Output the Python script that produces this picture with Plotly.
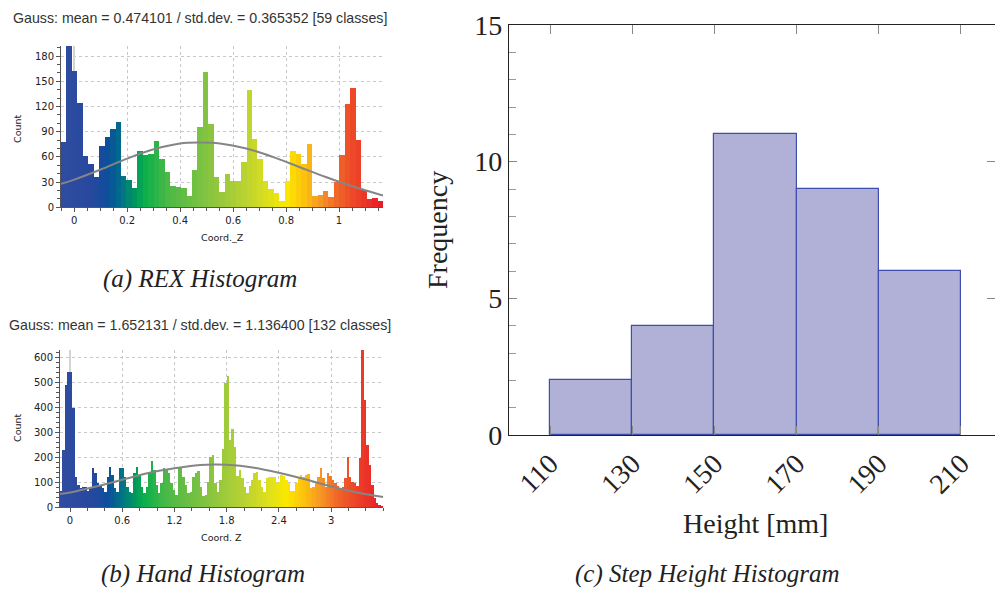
import numpy as np
import plotly.graph_objects as go

# ---------------- (a) REX histogram ----------------
rex_title = "Gauss: mean = 0.474101 / std.dev. = 0.365352 [59 classes]"
rex_range = [-0.05, 1.166]          # value range covered by the 59 classes
rex_counts = [78, 200, 162, 124, 61, 51, 36, 73, 84, 93,
              101, 37, 32, 23, 67, 62, 63, 79, 57, 42,
              25, 24, 23, 13, 44, 96, 161, 99, 36, 18,
              40, 31, 31, 54, 140, 81, 57, 31, 22, 17,
              8, 31, 67, 63, 51, 75, 14, 15, 19, 12,
              30, 62, 123, 142, 80, 21, 10, 11, 7]
rex_gauss_x = [-0.05, 0.0, 0.1, 0.2, 0.3, 0.4, 0.474, 0.55, 0.65, 0.75, 0.85, 0.95, 1.05, 1.166]
rex_gauss_y = [28, 33, 45, 58, 69, 76, 77, 76, 70, 60, 48, 36, 25, 14]
rex_xticks = [0, 0.2, 0.4, 0.6, 0.8, 1]
rex_xticklabels = ["0", "0.2", "0.4", "0.6", "0.8", "1"]
rex_yticks = [0, 30, 60, 90, 120, 150, 180]
rex_xlabel = "Coord._Z"

# ---------------- (b) Hand histogram ----------------
hand_title = "Gauss: mean = 1.652131 / std.dev. = 1.136400 [132 classes]"
hand_range = [-0.115, 3.60]
hand_counts = [65, 230, 490, 540, 542, 395, 121, 90, 78, 81,
               81, 63, 81, 155, 135, 95, 84, 75, 61, 121,
               161, 128, 75, 61, 157, 155, 121, 81, 61, 55,
               135, 161, 128, 81, 55, 81, 141, 185, 148, 88,
               55, 95, 155, 148, 137, 95, 70, 48, 155, 159,
               121, 88, 57, 61, 121, 137, 144, 81, 44, 48,
               101, 201, 208, 95, 61, 108, 231, 495, 525, 268,
               311, 240, 125, 148, 115, 81, 55, 84, 108, 137,
               141, 108, 81, 60, 115, 119, 119, 119, 97, 100,
               128, 124, 108, 95, 65, 65, 95, 115, 128, 121,
               128, 132, 75, 81, 95, 121, 157, 115, 81, 135,
               124, 108, 97, 85, 75, 81, 117, 199, 121, 101,
               95, 85, 195, 660, 428, 248, 168, 88, 35, 15,
               8, 4]
hand_gauss_x = [-0.115, 0.0, 0.3, 0.6, 0.9, 1.2, 1.5, 1.652, 1.8, 2.1, 2.4, 2.7, 3.0, 3.3, 3.6]
hand_gauss_y = [52, 58, 82, 109, 136, 155, 168, 170, 169, 158, 137, 111, 82, 58, 40]
hand_xticks = [0, 0.6, 1.2, 1.8, 2.4, 3]
hand_xticklabels = ["0", "0.6", "1.2", "1.8", "2.4", "3"]
hand_yticks = [0, 100, 200, 300, 400, 500, 600]
hand_xlabel = "Coord. Z"

# ---------------- (c) Step height histogram ----------------
step_bin_lower = [110, 130, 150, 170, 190]
step_bin_width = 20
step_freq = [2, 4, 11, 9, 6]
step_xticks = [110, 130, 150, 170, 190, 210]
step_yticks = [0, 5, 10, 15]

captions = ["(a) REX Histogram", "(b) Hand Histogram", "(c) Step Height Histogram"]

# colour ramp (blue > green > yellow > red) used by the point-cloud software
ramp = [
    [0.00, "rgb(48,76,160)"],
    [0.10, "rgb(38,72,158)"],
    [0.15, "rgb(10,80,155)"],
    [0.19, "rgb(0,115,135)"],
    [0.23, "rgb(0,150,95)"],
    [0.26, "rgb(10,175,75)"],
    [0.33, "rgb(75,185,70)"],
    [0.45, "rgb(130,195,65)"],
    [0.57, "rgb(185,210,50)"],
    [0.65, "rgb(225,225,25)"],
    [0.70, "rgb(250,232,0)"],
    [0.76, "rgb(252,190,15)"],
    [0.80, "rgb(247,155,35)"],
    [0.86, "rgb(240,100,40)"],
    [0.93, "rgb(236,60,40)"],
    [1.00, "rgb(230,25,40)"],
]

W, H = 995, 591


def px(x):
    return x / W


def py(y):
    return 1 - y / H


def hist_centers(rng, counts):
    n = len(counts)
    w = (rng[1] - rng[0]) / n
    return rng[0] + w * (np.arange(n) + 0.5), w


fig = go.Figure()

# (a)
ca, wa = hist_centers(rex_range, rex_counts)
fig.add_trace(go.Bar(x=ca, y=rex_counts, width=wa, xaxis="x", yaxis="y",
                     marker=dict(color=ca, colorscale=ramp, cmin=rex_range[0], cmax=rex_range[1],
                                 line=dict(width=0)), showlegend=False))
fig.add_trace(go.Scatter(x=rex_gauss_x, y=rex_gauss_y, mode="lines", xaxis="x", yaxis="y",
                         line=dict(color="#858585", width=2, shape="spline"), showlegend=False))

# (b)
cb, wb = hist_centers(hand_range, hand_counts)
fig.add_trace(go.Bar(x=cb, y=hand_counts, width=wb, xaxis="x2", yaxis="y2",
                     marker=dict(color=cb, colorscale=ramp, cmin=hand_range[0], cmax=hand_range[1],
                                 line=dict(width=0)), showlegend=False))
fig.add_trace(go.Scatter(x=hand_gauss_x, y=hand_gauss_y, mode="lines", xaxis="x2", yaxis="y2",
                         line=dict(color="#858585", width=2, shape="spline"), showlegend=False))

# (c)
cc = [lo + step_bin_width / 2 for lo in step_bin_lower]
fig.add_trace(go.Bar(x=cc, y=step_freq, width=step_bin_width, xaxis="x3", yaxis="y3",
                     marker=dict(color="#b1b0d7", line=dict(color="#3d4fae", width=1.2)),
                     showlegend=False))
fig.add_trace(go.Scatter(x=[], y=[], xaxis="x3", yaxis="y4", showlegend=False))

small = dict(family="DejaVu Sans", size=10, color="#222222")
label_small = dict(family="DejaVu Sans", size=9.5, color="#222222")
serif = "Liberation Serif"

common_small_x = dict(ticks="outside", ticklen=4, tickcolor="#555", showline=True, linecolor="#555",
                      linewidth=1, showgrid=True, gridcolor="#c8c8c8", griddash="dot", gridwidth=1,
                      tickfont=small, zeroline=True, zerolinecolor="#d4d4d4", zerolinewidth=2,
                      fixedrange=True)
common_small_y = dict(ticks="outside", ticklen=4, tickcolor="#555", showline=True, linecolor="#555",
                      linewidth=1, showgrid=True, gridcolor="#c8c8c8", griddash="dot", gridwidth=1,
                      tickfont=small, zeroline=False, fixedrange=True)

fig.update_layout(
    width=W, height=H, autosize=False,
    margin=dict(l=0, r=0, t=0, b=0, pad=0, autoexpand=False),
    paper_bgcolor="white", plot_bgcolor="white",
    bargap=0, barmode="overlay",
    xaxis=dict(domain=[px(61), px(383)], anchor="y", range=rex_range,
               tickvals=rex_xticks, ticktext=rex_xticklabels,
               minor=dict(dtick=0.05, tick0=0, ticks="outside", ticklen=3, tickcolor="#555", showgrid=False),
               **common_small_x),
    yaxis=dict(domain=[py(207.3), py(46)], anchor="x", range=[0, 192], tickvals=rex_yticks,
               minor=dict(dtick=10, tick0=0, ticks="outside", ticklen=3, tickcolor="#555", showgrid=False),
               **common_small_y),
    xaxis2=dict(domain=[px(60), px(383.3)], anchor="y2", range=hand_range,
                tickvals=hand_xticks, ticktext=hand_xticklabels,
                minor=dict(dtick=0.2, tick0=0, ticks="outside", ticklen=3, tickcolor="#555", showgrid=False),
                **common_small_x),
    yaxis2=dict(domain=[py(507), py(350)], anchor="x2", range=[0, 628], tickvals=hand_yticks,
                minor=dict(dtick=20, tick0=0, ticks="outside", ticklen=3, tickcolor="#555", showgrid=False),
                **common_small_y),
    xaxis3=dict(domain=[px(509), 1.0], anchor="y3", range=[100, 218.3],
                tickvals=step_xticks, tickangle=-45,
                ticks="inside", ticklen=9, tickcolor="#888", showline=True, linecolor="#222",
                linewidth=1.2, mirror="ticks", showgrid=False, zeroline=False,
                tickfont=dict(family=serif, size=28, color="#222"), fixedrange=True),
    yaxis3=dict(domain=[py(435), py(25)], anchor="x3", range=[0, 15], tickvals=step_yticks,
                ticks="inside", ticklen=8, tickcolor="#888", showline=True, linecolor="#222",
                linewidth=1.2, showgrid=False, zeroline=False,
                minor=dict(dtick=1, tick0=0, ticks="inside", ticklen=7, tickcolor="#999", showgrid=False),
                tickfont=dict(family=serif, size=28, color="#222"), fixedrange=True),
    yaxis4=dict(overlaying="y3", anchor="x3", side="right", range=[0, 15], tickvals=[5, 10],
                ticks="inside", ticklen=8, tickcolor="#888", showline=False, showgrid=False,
                zeroline=False, showticklabels=False, fixedrange=True),
)

ann = []
title_font = dict(family="Liberation Sans", size=14.2, color="#333")
ann.append(dict(text=rex_title, x=px(199.5), y=py(18), font=title_font))
ann.append(dict(text=hand_title, x=px(199.5), y=py(325), font=title_font))
ann.append(dict(text="Count", x=px(17), y=py(129), textangle=-90, font=label_small))
ann.append(dict(text=rex_xlabel, x=px(222), y=py(237), font=label_small))
ann.append(dict(text="Count", x=px(17), y=py(428), textangle=-90, font=label_small))
ann.append(dict(text=hand_xlabel, x=px(221), y=py(537), font=label_small))
ann.append(dict(text="Frequency", x=px(437), y=py(230), textangle=-90,
                font=dict(family=serif, size=28, color="#222")))
ann.append(dict(text="Height [mm]", x=px(755), y=py(523),
                font=dict(family=serif, size=28, color="#222")))
cap_font = dict(family=serif, size=25, color="#222")
ann.append(dict(text="<i>" + captions[0] + "</i>", x=px(200), y=py(279), font=cap_font))
ann.append(dict(text="<i>" + captions[1] + "</i>", x=px(202.5), y=py(574), font=cap_font))
ann.append(dict(text="<i>" + captions[2] + "</i>", x=px(707.5), y=py(574), font=cap_font))

for a in ann:
    a.update(xref="paper", yref="paper", showarrow=False, xanchor="center", yanchor="middle")
fig.update_layout(annotations=ann)

fig.write_html("out.html", config={"displayModeBar": False},
               post_script="document.body.style.margin='0';")
